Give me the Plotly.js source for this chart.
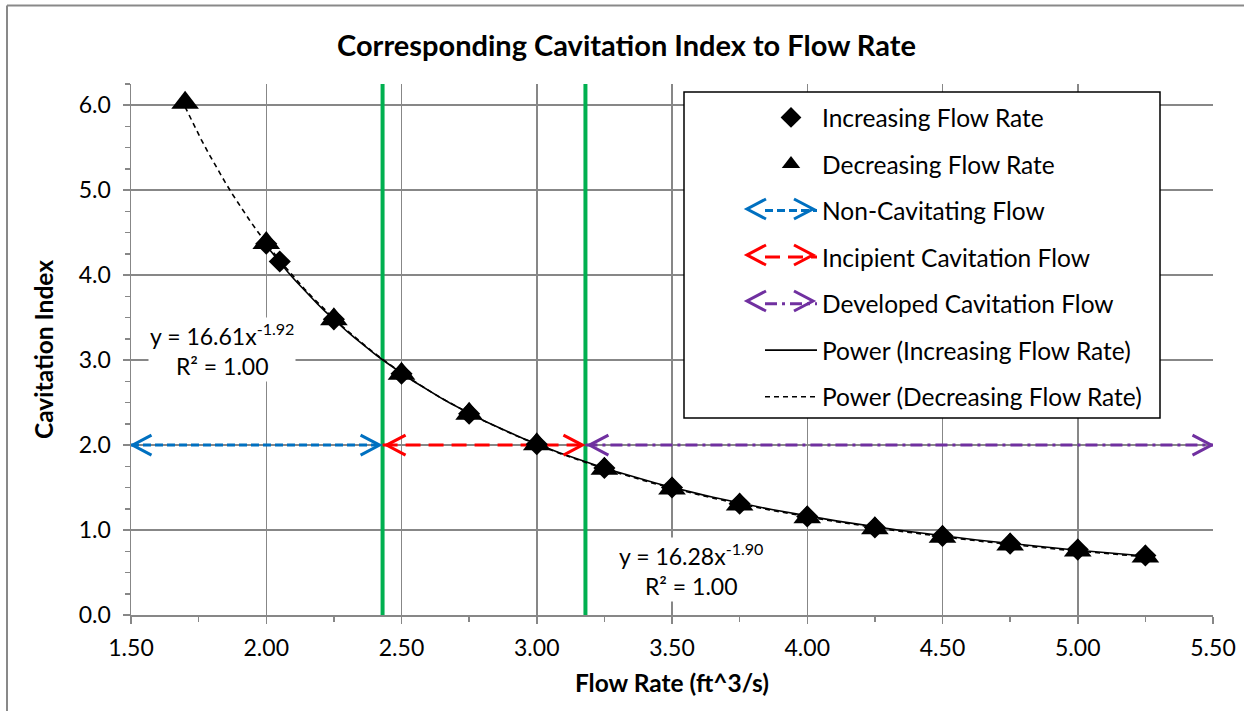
<!DOCTYPE html>
<html><head><meta charset="utf-8">
<script src="https://cdn.plot.ly/plotly-3.0.1.min.js"></script>
<style>html,body{margin:0;padding:0;background:#fff}</style>
</head><body><div id="chart" style="width:1253px;height:711px"></div>
<script>
// ---- data ----
const incFlow  = [2.00, 2.05, 2.25, 2.50, 2.75, 3.00, 3.25, 3.50, 3.75, 4.00, 4.25, 4.50, 4.75, 5.00, 5.25];
const incIndex = [4.37, 4.16, 3.48, 2.84, 2.37, 2.01, 1.73, 1.50, 1.31, 1.16, 1.03, 0.93, 0.84, 0.77, 0.70];
const decFlow  = [1.70, 2.00, 2.25, 2.50, 2.75, 3.00, 3.25, 3.50, 3.75, 4.00, 4.25, 4.50, 4.75, 5.00, 5.25];
const decIndex = [6.03, 4.38, 3.48, 2.84, 2.37, 2.01, 1.72, 1.49, 1.30, 1.15, 1.02, 0.92, 0.83, 0.76, 0.69];
const regimeBounds = [1.50, 2.43, 3.18, 5.50];
const regimeNames  = ['Non-Cavitating Flow', 'Incipient Cavitation Flow', 'Developed Cavitation Flow'];
const regimeIndex  = 2.0;
const boundaryFlow = [2.43, 3.18];
const boundaryIndex = [0, 6.25];
const eqIncText = 'y = 16.28x<sup>-1.90</sup><br>R² = 1.00';
const eqDecText = 'y = 16.61x<sup>-1.92</sup><br>R² = 1.00';
const eqIncPos = [3.57, 0.53];
const eqDecPos = [1.835, 3.12];

// ---- styling ----
const FONT = 'Lato, "Open Sans", sans-serif';
const W = 1253, H = 711, ML = 131, MR = 40, MT = 84, MB = 96;
const PW = W - ML - MR, PH = H - MT - MB;
const px2paperX = px => (px - ML) / PW;
const px2paperY = py => (H - MB - py) / PH;
const regimeColors = ['#0070C0', '#FF0000', '#7030A0'];
const regimeDash = ['8px,4px', '15px,8px', '12px,5px,3px,5px'];
const GRID = '#878787';

// power-law fit (least squares in log-log space), as Excel's power trendline does
function powerFit(xs, ys) {
  const n = xs.length;
  const lx = xs.map(Math.log), ly = ys.map(Math.log);
  const mx = lx.reduce((a, b) => a + b) / n, my = ly.reduce((a, b) => a + b) / n;
  let sxy = 0, sxx = 0;
  for (let i = 0; i < n; i++) { sxy += (lx[i] - mx) * (ly[i] - my); sxx += (lx[i] - mx) ** 2; }
  const b = sxy / sxx, a = Math.exp(my - b * mx);
  return { a, b };
}
function trendCurve(xs, ys) {
  const f = powerFit(xs, ys);
  const x0 = Math.min(...xs), x1 = Math.max(...xs);
  const X = [], Y = [];
  for (let i = 0; i <= 120; i++) { const x = x0 + (x1 - x0) * i / 120; X.push(x); Y.push(f.a * Math.pow(x, f.b)); }
  return { X, Y };
}
const incTrend = trendCurve(incFlow, incIndex);
const decTrend = trendCurve(decFlow, decIndex);

const traces = [];
boundaryFlow.forEach(b => traces.push({
  x: [b, b], y: boundaryIndex, mode: 'lines', line: { color: '#00B050', width: 4 },
  showlegend: false, hoverinfo: 'skip'
}));
regimeNames.forEach((nm, i) => traces.push({
  x: [regimeBounds[i], regimeBounds[i + 1]], y: [regimeIndex, regimeIndex], mode: 'lines',
  name: nm, legendgroup: 'g' + (i + 2), legendrank: 3 + i,
  line: { color: regimeColors[i], width: 3, dash: regimeDash[i] }, hoverinfo: 'skip'
}));
traces.push({
  x: incFlow, y: incIndex, mode: 'markers', name: 'Increasing Flow Rate', legendgroup: 'g0', legendrank: 1,
  marker: { symbol: 'diamond', size: 17, color: '#000' }
});
traces.push({
  x: decFlow, y: decIndex, mode: 'markers', name: 'Decreasing Flow Rate', legendgroup: 'g1', legendrank: 2,
  marker: { symbol: 'triangle-up', size: 24, color: '#000' }
});
traces.push({
  x: incTrend.X, y: incTrend.Y, mode: 'lines', name: 'Power (Increasing Flow Rate)', legendgroup: 'g5', legendrank: 6,
  line: { color: '#000', width: 1.6 }, hoverinfo: 'skip'
});
traces.push({
  x: decTrend.X, y: decTrend.Y, mode: 'lines', name: 'Power (Decreasing Flow Rate)', legendgroup: 'g6', legendrank: 7,
  line: { color: '#000', width: 1.6, dash: '5px,4px' }, hoverinfo: 'skip'
});

const shapes = [
  // legend box
  { type: 'rect', xref: 'paper', yref: 'paper', x0: px2paperX(684), x1: px2paperX(1160),
    y0: px2paperY(418), y1: px2paperY(92), fillcolor: '#fff', line: { color: '#000', width: 1.5 }, layer: 'above' },
  // outer chart border
  { type: 'line', xref: 'paper', yref: 'paper', x0: px2paperX(7), x1: px2paperX(7), y0: px2paperY(720), y1: px2paperY(5.5),
    line: { color: '#898989', width: 2 } },
  { type: 'line', xref: 'paper', yref: 'paper', x0: px2paperX(7), x1: px2paperX(1244), y0: px2paperY(5.5), y1: px2paperY(5.5),
    line: { color: '#898989', width: 2 } }
];
// chevron arrowheads (pixel-sized paths anchored at the arrow tips)
function chevron(x, y, dir, color, ref, shift) {
  const s = shift || 0, d = -dir; // d=+1 arms to the right (tip points left)
  shapes.push({
    type: 'path', xref: ref[0], yref: ref[1], xsizemode: 'pixel', ysizemode: 'pixel', xanchor: x, yanchor: y,
    path: `M${s + d * 19},10L${s},0L${s + d * 19},-10`,
    line: { color, width: 3 }, fillcolor: 'rgba(0,0,0,0)', layer: 'above'
  });
}
regimeNames.forEach((nm, i) => {
  chevron(regimeBounds[i], regimeIndex, -1, regimeColors[i], ['x', 'y'], i === 0 ? 1.5 : 4);
  chevron(regimeBounds[i + 1], regimeIndex, 1, regimeColors[i], ['x', 'y'], i === 2 ? -1.5 : -3);
});
const legendRowY = [209, 255, 301];
regimeNames.forEach((nm, i) => {
  chevron(px2paperX(747), px2paperY(legendRowY[i]), -1, regimeColors[i], ['paper', 'paper']);
  chevron(px2paperX(813), px2paperY(legendRowY[i]), 1, regimeColors[i], ['paper', 'paper']);
});

const annotations = [[eqDecText, eqDecPos], [eqIncText, eqIncPos]].map(([t, p]) => ({
  x: p[0], y: p[1], xref: 'x', yref: 'y', text: t, showarrow: false, align: 'center',
  bgcolor: '#fff', font: { family: FONT, size: 23, color: '#000' }
}));

const axisCommon = {
  showline: true, linecolor: GRID, linewidth: 1.5, gridcolor: GRID, gridwidth: 1.5,
  ticks: 'outside', ticklen: 7, tickwidth: 1.5, tickcolor: GRID, zeroline: false,
  tickfont: { family: FONT, size: 23, color: '#000' }, fixedrange: true
};
const layout = {
  width: W, height: H, margin: { l: ML, r: MR, t: MT, b: MB },
  paper_bgcolor: '#fff', plot_bgcolor: '#fff', hovermode: false,
  title: { text: 'Corresponding Cavitation Index to Flow Rate', font: { family: FONT, size: 29, weight: 'bold', color: '#000' },
    xref: 'container', x: 0.5, xanchor: 'center', yref: 'container', y: 1 - 46 / H, yanchor: 'middle' },
  xaxis: Object.assign({}, axisCommon, {
    range: [1.5, 5.5], dtick: 0.5, tick0: 1.5, tickformat: '.2f', ticklabelstandoff: 5,
    minor: { dtick: 0.25, ticks: 'outside', ticklen: 5, tickwidth: 1.5, tickcolor: GRID, showgrid: false },
    title: { text: 'Flow Rate (ft^3/s)', font: { family: FONT, size: 24.5, weight: 'bold', color: '#000' }, standoff: 15 }
  }),
  yaxis: Object.assign({}, axisCommon, {
    range: [0, 6.25], dtick: 1, tick0: 0, tickformat: '.1f', ticklabelstandoff: 7,
    minor: { dtick: 0.25, ticks: 'outside', ticklen: 5, tickwidth: 1.5, tickcolor: GRID, showgrid: false },
    title: { text: 'Cavitation Index', font: { family: FONT, size: 24.5, weight: 'bold', color: '#000' }, standoff: 18 }
  }),
  legend: {
    x: px2paperX(760), xanchor: 'left', y: px2paperY(95), yanchor: 'top',
    bgcolor: 'rgba(0,0,0,0)', borderwidth: 0, itemwidth: 52, tracegroupgap: 11.7,
    traceorder: 'grouped', font: { family: FONT, size: 24.5, color: '#000' }
  },
  annotations, shapes
};
Plotly.newPlot('chart', traces, layout, { displayModeBar: false, staticPlot: true });
</script>
</body></html>
